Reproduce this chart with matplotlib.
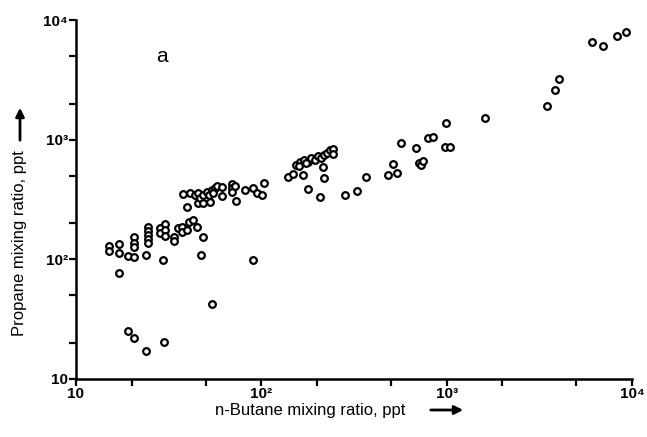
import matplotlib
matplotlib.use("Agg")
import matplotlib.pyplot as plt
from matplotlib.ticker import FixedLocator, NullFormatter

plt.rcParams['font.family'] = ['Liberation Sans Narrow', 'Liberation Sans', 'DejaVu Sans']

# n-Butane (ppt)
butane = [15, 15, 17, 17, 17, 19, 20.5, 20.5, 20.5, 20.5,
          19, 20.5, 24, 30, 54, 47, 29.5, 24, 90,
          24.5, 24.5, 24.5, 24.5, 24.5,
          28.4, 28.4, 30.2, 30.2, 30.2, 33.8, 33.8, 35.5, 37.3, 37.3,
          39.7, 40.7, 42.8, 45, 48.4,
          37.8, 39.7, 41.3, 43.9, 45.5, 45.5, 46.7, 48.4, 48.4, 50.9,
          52.8, 54.2, 56.2, 57.7, 52, 55, 61.4, 61.4, 69.5, 69.5, 69.5,
          72.1, 73, 81.7, 90.2, 94.8, 100.9, 103.5,
          139, 148, 168, 154, 162, 170, 179, 185, 195, 202, 210, 218,
          226, 235, 244, 244, 160, 174, 215, 218, 179, 207, 283, 328,
          367, 483, 514, 540, 568, 684, 710, 728, 746, 794, 845, 979,
          1042, 993, 1611, 3483, 3846, 4046, 6095, 6982, 8309, 9290]
# Propane (ppt)
propane = [130, 118, 135, 112, 77, 107, 105, 153, 136, 127,
           25, 22, 17, 20.5, 42, 109, 99, 109, 99,
           186, 172, 160, 148, 137,
           184, 166, 197, 176, 157, 154, 142, 184, 186, 169,
           176, 205, 213, 186, 154,
           351, 274, 358, 344, 358, 295, 325, 344, 295, 365,
           301, 379, 394, 410, 344, 358, 402, 338, 426, 394, 365,
           410, 307, 379, 394, 358, 344, 434,
           487, 516, 508, 614, 650, 676, 650, 702, 676, 730, 702, 743,
           773, 819, 834, 759, 601, 640, 590, 478, 387, 331, 344, 372,
           487, 506, 625, 526, 937, 851, 638, 614, 662, 1031, 1052, 867,
           867, 1377, 1514, 1910, 2600, 3206, 6531, 6053, 7328, 7925]

major = [10, 100, 1000, 10000]
minor = [20, 50, 200, 500, 2000, 5000]
tick_labels = ['10', '10²', '10³', '10⁴']

fig = plt.figure(figsize=(6.47, 4.37), dpi=100)
ax = fig.add_axes([76/647, 1-379/437, (632-76)/647, (379-20)/437])

ax.plot(butane, propane, linestyle='none', marker='o', markersize=4.8,
        markerfacecolor='white', markeredgecolor='black', markeredgewidth=1.6)

ax.set_xscale('log')
ax.set_yscale('log')
ax.set_xlim(10, 10000)
ax.set_ylim(10, 10000)

for a in (ax.xaxis, ax.yaxis):
    a.set_major_locator(FixedLocator(major))
    a.set_minor_locator(FixedLocator(minor))
    a.set_minor_formatter(NullFormatter())
ax.set_xticklabels(tick_labels, fontsize=11, fontweight='bold')
ax.set_yticklabels(tick_labels, fontsize=11, fontweight='bold')

ax.tick_params(which='both', direction='out', length=5, width=1.6, pad=1)

for s in ('top', 'right'):
    ax.spines[s].set_visible(False)
for s in ('left', 'bottom'):
    ax.spines[s].set_linewidth(1.8)

ax.text(0.155, 0.897, 'a', transform=ax.transAxes, fontsize=15,
        ha='center', va='center')

fig.text(310/647, 1-410/437, 'n-Butane mixing ratio, ppt', fontsize=12,
         ha='center', va='center')
fig.text(20/647, 1-243/437, 'Propane mixing ratio, ppt', fontsize=12,
         ha='center', va='center', rotation=90)

fig.patches.append(matplotlib.patches.FancyArrowPatch(
    (428/647, 1-410/437), (466/647, 1-410/437), transform=fig.transFigure,
    arrowstyle='-|>,head_length=5,head_width=2.5', linewidth=2, color='black'))
fig.patches.append(matplotlib.patches.FancyArrowPatch(
    (20/647, 1-143/437), (20/647, 1-105/437), transform=fig.transFigure,
    arrowstyle='-|>,head_length=5,head_width=2.5', linewidth=2, color='black'))

fig.savefig('out.png', dpi=100, facecolor='white')
